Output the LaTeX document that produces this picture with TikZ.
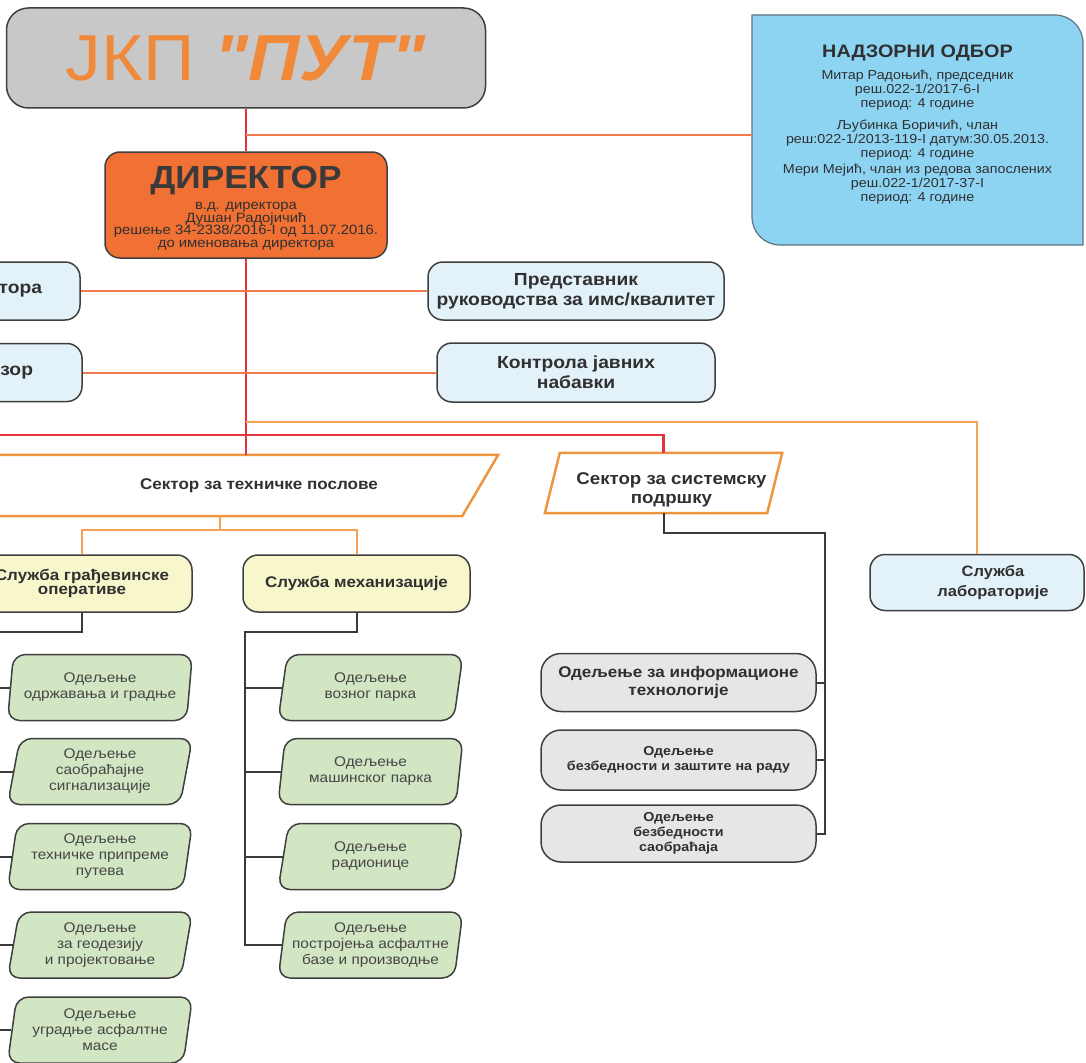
\documentclass[tikz,border=0pt]{standalone}
\usepackage{fontspec}
\setmainfont{Liberation Sans}[FakeStretch=1.1]
\newfontfamily\plainquotes{Liberation Sans}[FakeStretch=1.1, Ligatures=TeXOff]
\usetikzlibrary{shapes.geometric}

\definecolor{jkpgray}{HTML}{C8C8C8}
\definecolor{jkporange}{HTML}{F1893A}
\definecolor{dirorange}{HTML}{F07133}
\definecolor{nadblue}{HTML}{8DD4F3}
\definecolor{nadline}{HTML}{5E7480}
\definecolor{lightblue}{HTML}{E3F2F8}
\definecolor{lightyellow}{HTML}{F8F7CC}
\definecolor{lightgreen}{HTML}{D3E6C3}
\definecolor{lightgray}{HTML}{E6E6E6}
\definecolor{linered}{HTML}{E2333F}
\definecolor{lineorange}{HTML}{F07A4C}
\definecolor{lineorangelt}{HTML}{F4A25A}
\definecolor{sectorange}{HTML}{EF9540}
\definecolor{linedark}{HTML}{3A3A3A}
\definecolor{boxline}{HTML}{3F3F3F}
\definecolor{txt}{HTML}{303030}

\tikzset{
  box/.style={draw=boxline, line width=1.5pt, rounded corners=15pt, align=center, inner sep=0pt, text=txt},
  bluebox/.style={box, fill=lightblue, minimum height=58pt, font=\fontsize{17.5}{20}\selectfont\bfseries},
  yelbox/.style={box, fill=lightyellow, minimum width=220pt, minimum height=57pt, font=\fontsize{15.4}{14}\selectfont\bfseries},
  graybox/.style={box, fill=lightgray, rounded corners=20pt, minimum width=275pt, minimum height=58pt},
  greenbox/.style={trapezium, trapezium stretches=true, trapezium left angle=80, trapezium right angle=100,
    draw=boxline, line width=1.5pt, rounded corners=12pt, fill=lightgreen, minimum width=185pt, minimum height=66pt,
    inner sep=0pt, align=center, text=txt!90, font=\fontsize{14}{16}\selectfont},
  sectline/.style={draw=sectorange, line width=2.5pt, line join=miter},
  secttext/.style={align=center, text=txt, font=\fontsize{15.5}{19}\selectfont\bfseries},
  redline/.style={draw=linered, line width=2.5pt},
  oline/.style={draw=lineorange, line width=2pt},
  olinelt/.style={draw=lineorangelt, line width=2pt},
  dline/.style={draw=linedark, line width=2pt}
}

\begin{document}
\begin{tikzpicture}[x=1pt,y=-1pt]
    \useasboundingbox (0,0) rectangle (1086,1062);
    \clip (0,0) rectangle (1086,1062);

    % top of the chart
    \node[box, fill=jkpgray, rounded corners=22pt, minimum width=479pt, minimum height=100pt, text=jkporange,
      font=\plainquotes\fontsize{65}{70}\selectfont] (jkp) at (246,58) {ЈКП \textbf{\textit{"ПУТ"}}};
    \node[box, fill=dirorange, minimum width=282pt, minimum height=106pt] (dir) at (246,205) {};
    \node[align=center, text=txt, font=\fontsize{13.5}{12.7}\selectfont] (dirtext) at ([yshift=-3.5pt]dir.center)
      {{\fontsize{32}{34}\selectfont\bfseries\color{txt!95}ДИРЕКТОР}\\[6pt]
      в.д. директора\\ Душан Радојичић\\ решење 34-2338/2016-I од 11.07.2016.\\ до именовања директора};

    % supervisory board
    \draw[fill=nadblue, draw=nadline, line width=1.2pt] (752,15) -- (1055,15) .. controls (1070.5,15) and (1083,27.5) .. (1083,43)
      -- (1083,245) -- (780,245) .. controls (764.5,245) and (752,232.5) .. (752,217) -- cycle;
    \node[minimum width=331pt, minimum height=230pt, inner sep=0pt] (nad) at (917.5,130) {};
    \node[align=center, text=txt, font=\fontsize{13}{14}\selectfont] (nadtext) at ([yshift=5pt]nad.center)
      {{\fontsize{18}{20}\selectfont\bfseries НАДЗОРНИ ОДБОР}\\[8pt]
      Митар Радоњић, председник\\ реш.022-1/2017-6-I\\ период: 4 године\\[8pt]
      Љубинка Боричић, члан\\ реш:022-1/2013-119-I датум:30.05.2013.\\ период: 4 године\\[2pt]
      Мери Мејић, члан из редова запослених\\ реш.022-1/2017-37-I\\ период: 4 године};

    % staff beside the director
    \node[bluebox, minimum width=180pt, text width=104pt, align=right] (pom) at (-10,291) {тора};
    \node[bluebox, minimum width=182pt, text width=84pt, align=right] (nadz) at (-9,372.5) {зор};
    \node[bluebox, minimum width=296pt] (pred) at (576,291) {Представник\\руководства за имс/квалитет};
    \node[bluebox, minimum width=278pt, minimum height=59pt] (kjn) at (576,372.5) {Контрола јавних\\набавки};

    % sectors
    \node[minimum width=520pt, minimum height=61pt, inner sep=0pt] (tech) at (220,485.5) {};
    \draw[sectline] ([xshift=18pt]tech.north west) -- ([xshift=18pt]tech.north east)
      -- ([xshift=-18pt]tech.south east) -- ([xshift=-18pt]tech.south west) -- cycle;
    \node[secttext] (techtext) at ([xshift=39pt]tech.center) {Сектор за техничке послове};
    \node[minimum width=222pt, minimum height=60pt, inner sep=0pt] (sys) at (663.5,483) {};
    \draw[sectline] ([xshift=7.5pt]sys.north west) -- ([xshift=7.5pt]sys.north east)
      -- ([xshift=-7.5pt]sys.south east) -- ([xshift=-7.5pt]sys.south west) -- cycle;
    \node[secttext, font=\fontsize{17}{19}\selectfont\bfseries] (systext) at ([xshift=8pt,yshift=-7pt]sys.center)
      {Сектор за системску\\подршку};
    \node[bluebox, minimum width=214pt, minimum height=56pt] (lab) at (977,582.5) {};
    \node[align=center, text=txt, font=\fontsize{15}{20}\selectfont\bfseries] (labtext) at ([xshift=16pt]lab.center)
      {Служба\\лабораторије};

    % services
    \node[yelbox] (gra) at (82,583.5) {Служба грађевинске\\оперативе};
    \node[yelbox, minimum width=227pt] (meh) at (356.5,583.5) {Служба механизације};

    % departments
    \node[greenbox] (odr) at (100,687.5) {Одељење\\одржавања и градње};
    \node[greenbox] (sig) at (100,771.5) {Одељење\\саобраћајне\\сигнализације};
    \node[greenbox] (pri) at (100,856.5) {Одељење\\техничке припреме\\путева};
    \node[greenbox] (geo) at (100,945) {Одељење\\за геодезију\\и пројектовање};
    \node[greenbox] (ugr) at (100,1030) {Одељење\\уградње асфалтне\\масе};
    \node[greenbox] (voz) at (370.5,687.5) {Одељење\\возног парка};
    \node[greenbox] (mas) at (370.5,771.5) {Одељење\\машинског парка};
    \node[greenbox] (rad) at (370.5,856.5) {Одељење\\радионице};
    \node[greenbox] (pos) at (370.5,945) {Одељење\\постројења асфалтне\\базе и производње};

    \node[graybox, font=\fontsize{15.5}{18}\selectfont\bfseries] (inf) at (678.5,682.5) {Одељење за информационе\\технологије};
    \node[graybox, minimum height=60pt, font=\fontsize{13}{15}\selectfont\bfseries] (bzr) at (678.5,760) {Одељење\\безбедности и заштите на раду};
    \node[graybox, minimum height=57pt, font=\fontsize{13}{15}\selectfont\bfseries] (bsa) at (678.5,833.5) {Одељење\\безбедности\\саобраћаја};

    % red lines
    \draw[redline] (jkp.south) -- (dir.north);
    \draw[redline] (dir.south) -- (dir.south |- tech.north);
    \coordinate (rl) at (-20,435);
    \draw[redline] (rl) -| (sys.north);

    % orange lines
    \coordinate (j1) at (246,135);
    \draw[oline] (j1) -- (j1 -| nad.west);
    \draw[oline] (pom.east) -- (pred.west);
    \draw[oline] (nadz.east) -- (kjn.west);
    \coordinate (j2) at (246,422);
    \draw[olinelt] (j2) -| (lab.north);
    \coordinate (tb) at (220,530);
    \draw[olinelt] (tech.south) -- (tb) -| (gra.north);
    \draw[olinelt] (tb) -| (meh.north);

    % dark lines
    \coordinate (l1) at (-8,632);
    \draw[dline] (gra.south) |- (l1) |- (ugr.west);
    \draw[dline] (odr.west) -- (odr.west -| l1);
    \draw[dline] (sig.west) -- (sig.west -| l1);
    \draw[dline] (pri.west) -- (pri.west -| l1);
    \draw[dline] (geo.west) -- (geo.west -| l1);
    \coordinate (r1) at (245,632);
    \draw[dline] (meh.south) |- (r1) |- (pos.west);
    \draw[dline] (voz.west) -- (voz.west -| r1);
    \draw[dline] (mas.west) -- (mas.west -| r1);
    \draw[dline] (rad.west) -- (rad.west -| r1);
    \coordinate (s1) at (825,533);
    \draw[dline] (sys.south) |- (s1) |- (bsa.east);
    \draw[dline] (inf.east) -- (inf.east -| s1);
    \draw[dline] (bzr.east) -- (bzr.east -| s1);
\end{tikzpicture}
\end{document}
